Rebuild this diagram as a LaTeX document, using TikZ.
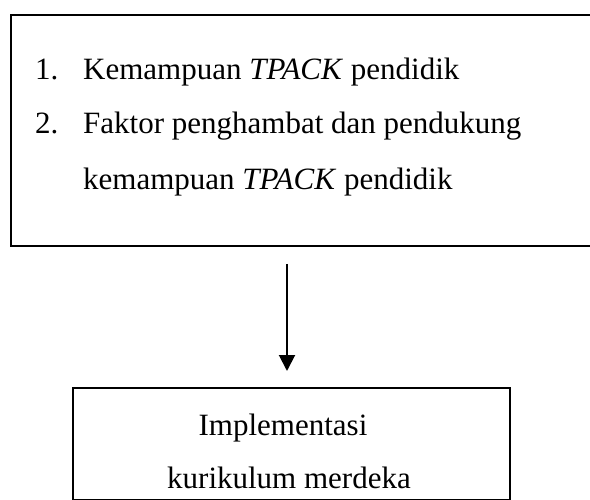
\documentclass[tikz,border=0pt]{standalone}
\usepackage{fontspec}
\setmainfont{Liberation Serif}
\usetikzlibrary{arrows.meta}
\begin{document}
\begin{tikzpicture}[x=1pt,y=-1pt,
  box/.style={draw=black,line width=2pt,inner sep=0pt,anchor=north west},
  txt/.style={anchor=base west,inner sep=0pt,font=\fontsize{31}{37}\selectfont},
  ctxt/.style={anchor=base,inner sep=0pt,font=\fontsize{31}{37}\selectfont},
  conn/.style={line width=2pt,-{Triangle[length=16pt,width=16pt]}}]
\useasboundingbox (0,0) rectangle (590,500);
\node[box,minimum width=581pt,minimum height=231pt] (topbox) at (10,14) {};
\node[box,minimum width=437pt,minimum height=112pt] (botbox) at (72,387) {};
\node[txt] (n1) at (35,80) {1.};
\node[txt] (t1) at (83,80) {Kemampuan \textit{TPACK} pendidik};
\node[txt] (n2) at (35,134) {2.};
\node[txt] (t2) at (83,134) {Faktor penghambat dan pendukung};
\node[txt] (t3) at (83,190) {kemampuan \textit{TPACK} pendidik};
\node[ctxt] (b1) at (283,435) {Implementasi};
\node[ctxt] (b2) at (289,488) {kurikulum merdeka};
\coordinate (as) at (287,264);
\coordinate (ae) at (287,371);
\draw[conn] (as) -- (ae);
\end{tikzpicture}
\end{document}
